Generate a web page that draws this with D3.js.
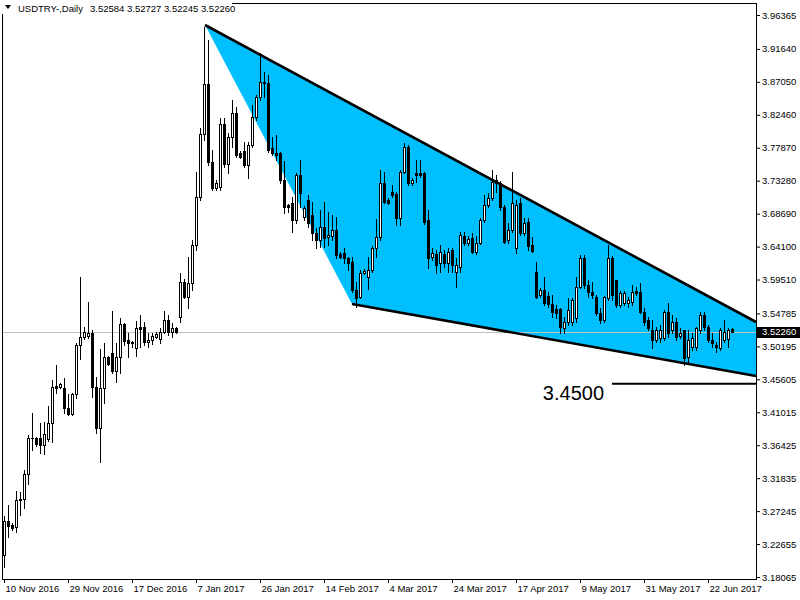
<!DOCTYPE html>
<html><head><meta charset="utf-8">
<script src="https://cdn.jsdelivr.net/npm/d3@7"></script>
<style>
body{margin:0;background:#fff}
svg{display:block}
text{font-family:"Liberation Sans",Arial,sans-serif}
</style>
</head><body>
<svg id="c" width="800" height="600"></svg>
<script>
const symbolName = "USDTRY-,Daily";
const lastQuote = [3.52584, 3.52727, 3.52245, 3.52260];
const opens = [3.211,3.259,3.253,3.250,3.288,3.289,3.324,3.374,3.374,3.374,3.364,3.373,3.395,3.447,3.445,3.444,3.416,3.408,3.436,3.504,
3.515,3.516,3.521,3.445,3.388,3.444,3.487,3.493,3.468,3.487,3.533,3.511,3.508,3.500,3.529,3.529,3.508,3.511,3.515,3.512,
3.522,3.539,3.522,3.528,3.543,3.592,3.571,3.590,3.643,3.710,3.798,3.868,3.759,3.723,3.724,3.812,3.756,3.794,3.827,3.771,
3.774,3.755,3.783,3.822,3.849,3.870,3.869,3.778,3.771,3.771,3.734,3.699,3.702,3.678,3.741,3.682,3.706,3.685,3.660,3.650,
3.668,3.654,3.656,3.664,3.631,3.632,3.625,3.620,3.581,3.571,3.604,3.599,3.608,3.639,3.654,3.730,3.706,3.717,3.714,3.681,
3.745,3.780,3.730,3.744,3.744,3.744,3.678,3.626,3.631,3.618,3.631,3.618,3.636,3.606,3.613,3.656,3.646,3.653,3.633,3.646,
3.678,3.699,3.709,3.734,3.730,3.696,3.650,3.664,3.639,3.702,3.660,3.675,3.643,3.606,3.574,3.581,3.572,3.561,3.554,3.554,
3.528,3.536,3.536,3.542,3.585,3.625,3.588,3.578,3.571,3.548,3.539,3.569,3.625,3.594,3.560,3.563,3.563,3.564,3.579,3.578,
3.550,3.539,3.525,3.511,3.514,3.514,3.550,3.525,3.536,3.516,3.525,3.487,3.501,3.501,3.525,3.546,3.529,3.511,3.504,3.500,
3.511,3.512,3.52584];
const highs = [3.266,3.281,3.256,3.300,3.299,3.330,3.379,3.409,3.376,3.395,3.397,3.419,3.455,3.476,3.451,3.458,3.436,3.437,3.507,3.599,
3.529,3.564,3.525,3.459,3.498,3.507,3.489,3.551,3.507,3.542,3.535,3.521,3.509,3.537,3.546,3.536,3.521,3.521,3.522,3.528,
3.551,3.546,3.535,3.529,3.604,3.596,3.626,3.650,3.745,3.806,3.947,3.929,3.776,3.734,3.820,3.820,3.799,3.845,3.836,3.774,
3.787,3.787,3.838,3.852,3.911,3.884,3.880,3.794,3.797,3.773,3.760,3.700,3.710,3.743,3.762,3.697,3.713,3.703,3.667,3.692,
3.703,3.689,3.685,3.682,3.633,3.639,3.627,3.627,3.592,3.608,3.610,3.627,3.642,3.679,3.748,3.745,3.709,3.727,3.717,3.748,
3.785,3.783,3.737,3.762,3.762,3.745,3.692,3.639,3.636,3.643,3.636,3.639,3.639,3.625,3.661,3.661,3.656,3.660,3.656,3.681,
3.713,3.716,3.748,3.741,3.732,3.699,3.674,3.745,3.706,3.709,3.681,3.681,3.654,3.620,3.583,3.599,3.578,3.574,3.560,3.555,
3.543,3.569,3.569,3.599,3.629,3.629,3.594,3.592,3.574,3.555,3.572,3.643,3.628,3.594,3.579,3.579,3.571,3.588,3.585,3.590,
3.555,3.543,3.539,3.529,3.532,3.553,3.563,3.546,3.542,3.528,3.525,3.525,3.521,3.529,3.550,3.550,3.532,3.521,3.508,3.528,
3.539,3.528,3.52727];
const lows = [3.195,3.236,3.246,3.243,3.267,3.277,3.310,3.358,3.363,3.353,3.352,3.370,3.369,3.437,3.444,3.409,3.406,3.406,3.430,3.485,
3.512,3.514,3.432,3.381,3.341,3.423,3.476,3.465,3.452,3.465,3.504,3.487,3.501,3.489,3.501,3.504,3.501,3.505,3.514,3.507,
3.521,3.518,3.515,3.521,3.536,3.569,3.556,3.581,3.636,3.706,3.790,3.755,3.720,3.720,3.720,3.752,3.744,3.780,3.766,3.764,
3.752,3.737,3.780,3.817,3.845,3.849,3.773,3.769,3.762,3.730,3.688,3.689,3.661,3.674,3.696,3.678,3.668,3.650,3.639,3.640,
3.640,3.643,3.650,3.625,3.625,3.618,3.608,3.578,3.557,3.569,3.603,3.582,3.606,3.627,3.650,3.702,3.700,3.710,3.671,3.671,
3.744,3.727,3.727,3.731,3.738,3.672,3.611,3.622,3.604,3.606,3.612,3.606,3.606,3.585,3.606,3.643,3.643,3.632,3.631,3.645,
3.675,3.696,3.706,3.717,3.692,3.646,3.646,3.661,3.632,3.657,3.657,3.636,3.633,3.569,3.571,3.560,3.557,3.543,3.541,3.521,
3.521,3.532,3.532,3.536,3.583,3.583,3.571,3.569,3.546,3.535,3.536,3.567,3.567,3.557,3.557,3.560,3.557,3.560,3.574,3.548,
3.532,3.525,3.500,3.508,3.508,3.511,3.515,3.521,3.511,3.514,3.476,3.479,3.497,3.497,3.521,3.525,3.508,3.501,3.494,3.497,
3.508,3.501,3.52245];
const closes = [3.259,3.252,3.249,3.288,3.289,3.324,3.374,3.374,3.366,3.364,3.380,3.395,3.445,3.444,3.450,3.416,3.408,3.436,3.504,3.515,
3.522,3.521,3.445,3.388,3.444,3.487,3.477,3.468,3.487,3.533,3.509,3.507,3.507,3.528,3.526,3.508,3.511,3.516,3.519,3.522,
3.539,3.522,3.528,3.522,3.592,3.571,3.590,3.643,3.710,3.798,3.868,3.759,3.723,3.730,3.812,3.756,3.794,3.827,3.769,3.766,
3.755,3.783,3.822,3.849,3.870,3.869,3.776,3.771,3.769,3.734,3.696,3.696,3.678,3.741,3.716,3.695,3.674,3.660,3.650,3.668,
3.653,3.657,3.664,3.629,3.627,3.625,3.618,3.581,3.569,3.604,3.607,3.608,3.639,3.654,3.730,3.703,3.702,3.713,3.681,3.745,
3.780,3.730,3.734,3.741,3.741,3.675,3.625,3.632,3.615,3.633,3.618,3.633,3.615,3.615,3.657,3.646,3.652,3.633,3.646,3.678,
3.699,3.709,3.731,3.730,3.696,3.647,3.664,3.702,3.699,3.660,3.674,3.642,3.635,3.571,3.581,3.563,3.561,3.550,3.548,3.529,
3.536,3.553,3.567,3.585,3.625,3.588,3.578,3.574,3.548,3.539,3.571,3.625,3.574,3.560,3.576,3.576,3.567,3.578,3.576,3.550,
3.536,3.528,3.511,3.525,3.525,3.550,3.521,3.536,3.515,3.521,3.486,3.511,3.514,3.528,3.546,3.529,3.511,3.507,3.501,3.525,
3.522,3.525,3.52260];
const priceTicks = [3.96365,3.91640,3.87050,3.82460,3.77870,3.73280,3.68690,3.64100,3.59510,3.54785,3.50195,3.45605,3.41015,3.36425,3.31835,3.27245,3.22655,3.18065];
const dateTickIndex = [0,16,32,48,64,80,96,112,128,144,160,176];
const dateTickLabels = ["10 Nov 2016","29 Nov 2016","17 Dec 2016","7 Jan 2017","26 Jan 2017","14 Feb 2017","4 Mar 2017","24 Mar 2017","17 Apr 2017","9 May 2017","31 May 2017","22 Jun 2017"];
const triangleIdx = [50.25, 188, 188, 87];
const trianglePrice = [3.9497, 3.5359, 3.4607, 3.5610];
const upperTrendIdx = [50.25, 188], upperTrendPrice = [3.9497, 3.5359];
const lowerTrendIdx = [87, 188], lowerTrendPrice = [3.5610, 3.4607];
const supportLevel = 3.4500, supportIdx = [152, 188];

const svg = d3.select("#c");
const x = d3.scaleLinear().domain([0, 188]).range([4, 756]);
const y = d3.scaleLinear().domain([3.18065, 3.96365]).range([577, 15]);

svg.append("rect").attr("width",800).attr("height",600).attr("fill","#fff");

// triangle fill
const tri = triangleIdx.map((d,i)=>[x(d), y(trianglePrice[i])]);
svg.append("path").attr("d", d3.line()(tri) + "Z").attr("fill","#00BFFF");

// current price line
svg.append("line").attr("x1",2).attr("x2",756).attr("y1",Math.round(y(lastQuote[3]))+0.5).attr("y2",Math.round(y(lastQuote[3]))+0.5)
  .attr("stroke","#C0C0C0").attr("stroke-width",1);

// candles
const n = closes.length;
const g = svg.append("g").attr("shape-rendering","crispEdges");
for (let i = 0; i < n; i++) {
  const c0 = Math.round(x(i));
  const o = opens[i], c = closes[i];
  g.append("line").attr("x1",c0+0.5).attr("x2",c0+0.5)
    .attr("y1",Math.round(y(highs[i]))).attr("y2",Math.round(y(lows[i]))+1)
    .attr("stroke","#000");
  const top = Math.round(y(Math.max(o,c))), bot = Math.round(y(Math.min(o,c)));
  if (bot - top < 1) {
    g.append("line").attr("x1",c0-1).attr("x2",c0+2).attr("y1",top+0.5).attr("y2",top+0.5).attr("stroke","#000");
  } else {
    g.append("rect").attr("x",c0-0.5).attr("y",top+0.5).attr("width",2).attr("height",bot-top)
      .attr("fill", c >= o ? "#fff" : "#000").attr("stroke","#000").attr("stroke-width",1);
  }
}

// trend lines
svg.append("line").attr("x1",x(upperTrendIdx[0])).attr("y1",y(upperTrendPrice[0])).attr("x2",x(upperTrendIdx[1])).attr("y2",y(upperTrendPrice[1]))
  .attr("stroke","#000").attr("stroke-width",2.6);
svg.append("line").attr("x1",x(lowerTrendIdx[0])).attr("y1",y(lowerTrendPrice[0])).attr("x2",x(lowerTrendIdx[1])).attr("y2",y(lowerTrendPrice[1]))
  .attr("stroke","#000").attr("stroke-width",2.6);

// support level
svg.append("line").attr("x1",x(supportIdx[0])).attr("x2",x(supportIdx[1])).attr("y1",y(supportLevel)).attr("y2",y(supportLevel))
  .attr("stroke","#000").attr("stroke-width",2);
svg.append("text").attr("x",x(supportIdx[0])-8).attr("y",y(supportLevel)+16).attr("text-anchor","end")
  .attr("font-size",20).attr("fill","#000").text(supportLevel.toFixed(4));

// frame
svg.append("rect").attr("x",2.5).attr("y",3.5).attr("width",754).attr("height",576).attr("fill","none").attr("stroke","#000");

// axes
const yAxis = svg.append("g").attr("transform","translate(756,0)")
  .call(d3.axisRight(y).tickValues(priceTicks).tickFormat(d3.format(".5f")).tickSize(4).tickPadding(2));
yAxis.select(".domain").remove();
yAxis.selectAll("text").attr("font-size","9.5px").attr("font-family","Liberation Sans, Arial, sans-serif").attr("fill","#000");
yAxis.selectAll("line").attr("stroke","#000");

const xAxis = svg.append("g").attr("transform","translate(0,579)")
  .call(d3.axisBottom(x).tickValues(dateTickIndex).tickFormat((d,i)=>dateTickLabels[i]).tickSize(4).tickPadding(2));
xAxis.select(".domain").remove();
xAxis.selectAll("text").attr("font-size","9.5px").attr("font-family","Liberation Sans, Arial, sans-serif")
  .attr("text-anchor","start").attr("x",1).attr("fill","#000");
xAxis.selectAll("line").attr("stroke","#000");

// last price box
const yl = y(lastQuote[3]);
svg.append("rect").attr("x",757).attr("y",Math.round(yl)-5).attr("width",43).attr("height",11).attr("fill","#000");
svg.append("text").attr("x",762).attr("y",yl).attr("dy","0.34em").attr("font-size","9.5px").attr("fill","#fff")
  .text(lastQuote[3].toFixed(5));

// header
svg.append("rect").attr("x",0).attr("y",0).attr("width",232).attr("height",14).attr("fill","#fff");
svg.append("path").attr("d","M5,5L11,5L8,9Z").attr("fill","#000");
svg.append("text").attr("x",18).attr("y",11.5).attr("font-size","9.5px").attr("fill","#000").text(symbolName);
svg.append("text").attr("x",90).attr("y",11.5).attr("font-size","9.5px").attr("fill","#000")
  .text(lastQuote.map(v=>v.toFixed(5)).join(" "));
</script>
</body></html>
